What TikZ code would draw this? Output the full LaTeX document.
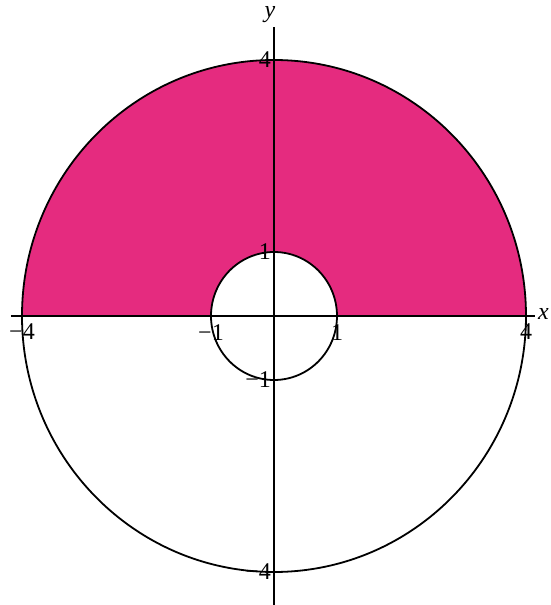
\documentclass[tikz,border=0pt]{standalone}
\usepackage{fontspec}
\setmainfont{Liberation Serif}
\definecolor{regionpink}{RGB}{229,43,127}
\begin{document}
\begin{tikzpicture}[x=63pt,y=64pt,
  axisline/.style={line width=1.5pt,black},
  curve/.style={line width=1.8pt,black},
  lab/.style={inner sep=0pt,font=\fontsize{24}{24}\selectfont},
  xlab/.style={lab,anchor=north,yshift=-8pt},
  ylab/.style={lab,anchor=east,xshift=-3pt}]
\useasboundingbox (-274pt,-289pt) rectangle (276pt,316pt);
% shaded upper half annulus
\fill[regionpink] (4,0) arc[start angle=0,end angle=180,x radius=252pt,y radius=256pt]
  -- (-1,0) arc[start angle=180,end angle=0,x radius=63pt,y radius=64pt] -- cycle;
% circles
\draw[curve] (0,0) ellipse[x radius=252pt,y radius=256pt];
\draw[curve] (0,0) ellipse[x radius=63pt,y radius=64pt];
% axes
\coordinate (xl) at (-263pt,0);
\coordinate (xr) at (261pt,0);
\coordinate (yb) at (0,-289pt);
\coordinate (yt) at (0,289pt);
\draw[axisline] (xl) -- (xr);
\draw[axisline] (yb) -- (yt);
\node[lab,font=\fontsize{24}{24}\selectfont\itshape] (ylabel) at (-4pt,301pt) {y};
\node[lab,font=\fontsize{24}{24}\selectfont\itshape,anchor=west] (xlabel) at (264pt,2pt) {x};
% tick labels
\node[xlab] (xm4) at (-4,0) {−4};
\node[xlab] (xm1) at (-1,0) {−1};
\node[xlab] (xp1) at (1,0) {1};
\node[xlab] (xp4) at (4,0) {4};
\node[ylab] (yp4) at (0,4) {4};
\node[ylab] (yp1) at (0,1) {1};
\node[ylab] (ym1) at (0,-1) {−1};
\node[ylab] (ym4) at (0,-4) {−4};
\end{tikzpicture}
\end{document}
